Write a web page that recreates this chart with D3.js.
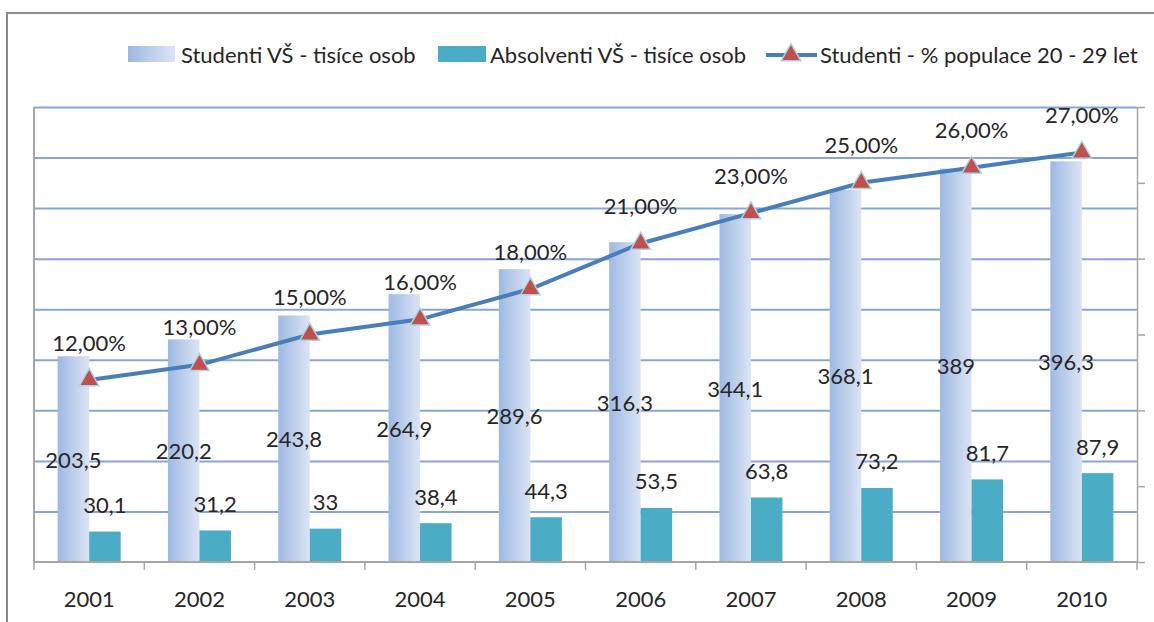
<!DOCTYPE html>
<html>
<head>
    <meta charset="UTF-8">
    <title>Studenti VŠ</title>
    <script src="https://d3js.org/d3.v7.min.js"></script>
    <style>
        body { margin: 0; background: #fff; }
        text { font-family: Lato, "Noto Sans", sans-serif; fill: #262626; }
    </style>
</head>
<body>
<div id="chart"></div>
<script>
    // data
    var years = ["2001", "2002", "2003", "2004", "2005", "2006", "2007", "2008", "2009", "2010"];
    var studenti = [203.5, 220.2, 243.8, 264.9, 289.6, 316.3, 344.1, 368.1, 389, 396.3];
    var absolventi = [30.1, 31.2, 33, 38.4, 44.3, 53.5, 63.8, 73.2, 81.7, 87.9];
    var procenta = [0.12, 0.13, 0.15, 0.16, 0.18, 0.21, 0.23, 0.25, 0.26, 0.27];
    var seriesNames = ["Studenti VŠ - tisíce osob", "Absolventi VŠ - tisíce osob", "Studenti - % populace 20 - 29 let"];

    var width = 1154, height = 622;
    var plotLeft = 34, plotRight = 1137, plotTop = 107, plotBottom = 562;
    var fontSize = 22;

    // czech number format: decimal comma
    var cz = d3.formatLocale({decimal: ",", thousands: " ", grouping: [3], currency: ["", ""]});
    var fmtNum = cz.format("~g");
    var fmtPct = cz.format(".2%");

    var svg = d3.select("#chart").append("svg")
        .attr("width", width)
        .attr("height", height);

    // gradient for the students bars
    var grad = svg.append("defs").append("linearGradient")
        .attr("id", "stGrad")
        .attr("x1", "0").attr("x2", "1").attr("y1", "0").attr("y2", "0");
    grad.append("stop").attr("offset", "0%").attr("stop-color", "#9fb9e3");
    grad.append("stop").attr("offset", "100%").attr("stop-color", "#dbe4f5");

    // outer frame
    svg.append("rect")
        .attr("x", 7).attr("y", 13)
        .attr("width", width).attr("height", height)
        .attr("fill", "none")
        .attr("stroke", "#8a8a8a")
        .attr("stroke-width", 2);

    // scales
    var x = d3.scaleBand().domain(years).range([plotLeft, plotRight]);
    var xIn = d3.scaleBand().domain([0, 1]).range([0, x.bandwidth()]).paddingOuter(0.75);
    var yL = d3.scaleLinear().domain([0, 450]).range([plotBottom, plotTop]);
    var yR = d3.scaleLinear().domain([0, 0.3]).range([plotBottom, plotTop]);

    // gridlines
    svg.append("g")
        .attr("transform", "translate(" + plotLeft + ",0)")
        .call(d3.axisLeft(yL).tickValues(d3.range(50, 451, 50)).tickSize(-(plotRight - plotLeft)).tickFormat(""))
        .call(function(g) {
            g.select(".domain").remove();
            g.selectAll("line").attr("stroke", "#86a7d6").attr("stroke-width", 2);
        });

    // left axis line
    svg.append("line")
        .attr("x1", plotLeft).attr("x2", plotLeft)
        .attr("y1", plotTop).attr("y2", plotBottom)
        .attr("stroke", "#a6a6a6").attr("stroke-width", 2);

    // right axis (percent), labels hidden
    svg.append("g")
        .attr("transform", "translate(" + plotRight + ",0)")
        .call(d3.axisRight(yR).ticks(6).tickSize(8).tickSizeOuter(0).tickFormat(""))
        .call(function(g) {
            g.selectAll("line, path").attr("stroke", "#a6a6a6").attr("stroke-width", 1.5);
        });

    // students bars
    svg.append("g").selectAll("rect")
        .data(studenti)
        .join("rect")
        .attr("x", function(d, i) { return x(years[i]) + xIn(0); })
        .attr("y", function(d) { return yL(d); })
        .attr("width", xIn.bandwidth())
        .attr("height", function(d) { return plotBottom - yL(d); })
        .attr("fill", "url(#stGrad)");

    // graduates bars
    svg.append("g").selectAll("rect")
        .data(absolventi)
        .join("rect")
        .attr("x", function(d, i) { return x(years[i]) + xIn(1); })
        .attr("y", function(d) { return yL(d); })
        .attr("width", xIn.bandwidth())
        .attr("height", function(d) { return plotBottom - yL(d); })
        .attr("fill", "#4bacc6");

    // x axis: line, ticks at category borders, year labels
    svg.append("line")
        .attr("x1", plotLeft).attr("x2", plotRight)
        .attr("y1", plotBottom).attr("y2", plotBottom)
        .attr("stroke", "#a6a6a6").attr("stroke-width", 2);
    svg.append("g").selectAll("line")
        .data(years.concat(["end"]))
        .join("line")
        .attr("x1", function(d) { return d === "end" ? plotRight : x(d); })
        .attr("x2", function(d) { return d === "end" ? plotRight : x(d); })
        .attr("y1", plotBottom).attr("y2", plotBottom + 8)
        .attr("stroke", "#a6a6a6").attr("stroke-width", 1.5);
    svg.append("g").selectAll("text")
        .data(years)
        .join("text")
        .attr("x", function(d) { return x(d) + x.bandwidth() / 2; })
        .attr("y", 598)
        .attr("text-anchor", "middle")
        .attr("dominant-baseline", "central")
        .attr("font-size", fontSize)
        .text(function(d) { return d; });

    // percentage line with triangles
    var cx = function(i) { return x(years[i]) + x.bandwidth() / 2; };
    var line = d3.line()
        .x(function(d, i) { return cx(i); })
        .y(function(d) { return yR(d); });
    svg.append("path")
        .datum(procenta)
        .attr("d", line)
        .attr("fill", "none")
        .attr("stroke", "#4a7ebb")
        .attr("stroke-width", 4);

    var tri = d3.symbol().type(d3.symbolTriangle).size(165);
    svg.append("g").selectAll("path")
        .data(procenta)
        .join("path")
        .attr("d", tri)
        .attr("transform", function(d, i) { return "translate(" + cx(i) + "," + yR(d) + ")"; })
        .attr("fill", "#c0504d")
        .attr("stroke", "#a9d4e0")
        .attr("stroke-width", 1.5);

    // data labels
    svg.append("g").selectAll("text")
        .data(studenti)
        .join("text")
        .attr("x", function(d, i) { return x(years[i]) + xIn(0) + xIn.bandwidth() / 2; })
        .attr("y", function(d) { return (yL(d) + plotBottom) / 2; })
        .attr("text-anchor", "middle")
        .attr("dominant-baseline", "central")
        .attr("font-size", fontSize)
        .text(function(d) { return fmtNum(d); });

    svg.append("g").selectAll("text")
        .data(absolventi)
        .join("text")
        .attr("x", function(d, i) { return x(years[i]) + xIn(1) + xIn.bandwidth() / 2; })
        .attr("y", function(d) { return yL(d) - 27; })
        .attr("text-anchor", "middle")
        .attr("dominant-baseline", "central")
        .attr("font-size", fontSize)
        .text(function(d) { return fmtNum(d); });

    svg.append("g").selectAll("text")
        .data(procenta)
        .join("text")
        .attr("x", function(d, i) { return cx(i); })
        .attr("y", function(d) { return yR(d) - 38; })
        .attr("text-anchor", "middle")
        .attr("dominant-baseline", "central")
        .attr("font-size", fontSize)
        .text(function(d) { return fmtPct(d); });

    // legend
    var legend = svg.append("g");
    legend.append("rect")
        .attr("x", 128).attr("y", 46).attr("width", 47).attr("height", 16)
        .attr("fill", "url(#stGrad)");
    legend.append("text")
        .attr("x", 181).attr("y", 54)
        .attr("dominant-baseline", "central")
        .attr("font-size", fontSize)
        .text(seriesNames[0]);

    legend.append("rect")
        .attr("x", 438).attr("y", 46).attr("width", 48).attr("height", 16)
        .attr("fill", "#4bacc6");
    legend.append("text")
        .attr("x", 490).attr("y", 54)
        .attr("dominant-baseline", "central")
        .attr("font-size", fontSize)
        .text(seriesNames[1]);

    legend.append("line")
        .attr("x1", 766).attr("x2", 817).attr("y1", 55).attr("y2", 55)
        .attr("stroke", "#4a7ebb").attr("stroke-width", 4);
    legend.append("path")
        .attr("d", tri)
        .attr("transform", "translate(791,55)")
        .attr("fill", "#c0504d")
        .attr("stroke", "#a9d4e0")
        .attr("stroke-width", 1.5);
    legend.append("text")
        .attr("x", 820).attr("y", 54)
        .attr("dominant-baseline", "central")
        .attr("font-size", fontSize)
        .text(seriesNames[2]);
</script>
</body>
</html>
